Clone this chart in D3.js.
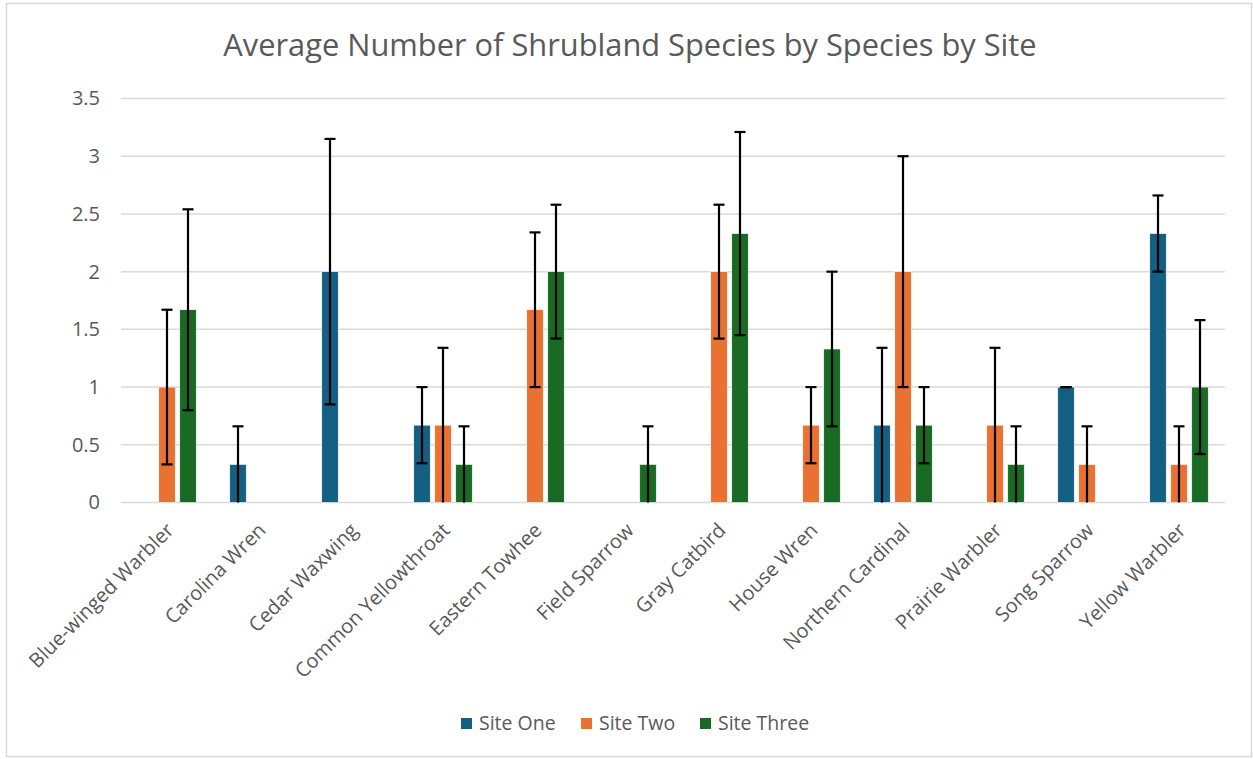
<!DOCTYPE html>
<html>
<head>
<meta charset="utf-8">
<script src="https://cdn.jsdelivr.net/npm/d3@7"></script>
<style>
  body { margin: 0; background: #fff; }
  svg text { font-family: "Open Sans", "Liberation Sans", sans-serif; fill: #595959; }
</style>
</head>
<body>
<div id="root"></div>
<script>
var categories = ["Blue-winged Warbler", "Carolina Wren", "Cedar Waxwing", "Common Yellowthroat",
    "Eastern Towhee", "Field Sparrow", "Gray Catbird", "House Wren", "Northern Cardinal",
    "Prairie Warbler", "Song Sparrow", "Yellow Warbler"];
var sites = ["Site One", "Site Two", "Site Three"];
var siteOne   = [0, 0.33, 2, 0.67, 0, 0, 0, 0, 0.67, 0, 1, 2.33];
var siteTwo   = [1, 0, 0, 0.67, 1.67, 0, 2, 0.67, 2, 0.67, 0.33, 0.33];
var siteThree = [1.67, 0, 0, 0.33, 2, 0.33, 2.33, 1.33, 0.67, 0.33, 0, 1];
// error amounts (+/-)
var errOne   = [0, 0.33, 1.15, 0.33, 0, 0, 0, 0, 0.67, 0, 0, 0.33];
var errTwo   = [0.67, 0, 0, 0.67, 0.67, 0, 0.58, 0.33, 1, 0.67, 0.33, 0.33];
var errThree = [0.87, 0, 0, 0.33, 0.58, 0.33, 0.88, 0.67, 0.33, 0.33, 0, 0.58];
var yTicks = [0, 0.5, 1, 1.5, 2, 2.5, 3, 3.5];
var colors = ["#156082", "#E97132", "#196B24"];

var values = [siteOne, siteTwo, siteThree];
var errors = [errOne, errTwo, errThree];

var W = 1253, H = 759;
var plot = { left: 121, right: 1225, top: 98.5, bottom: 502.5 };

var svg = d3.select("#root").append("svg")
    .attr("width", W).attr("height", H);

svg.append("rect")
    .attr("x", 6.5).attr("y", 3.5)
    .attr("width", W - 8).attr("height", H - 6)
    .attr("fill", "#fff").attr("stroke", "#d9d9d9").attr("stroke-width", 1.5);

var x0 = d3.scaleBand().domain(categories).range([plot.left, plot.right]);
var x1 = d3.scaleBand().domain(sites).range([0, 58.5]).paddingInner(0.214);
var y = d3.scaleLinear().domain([0, 3.5]).range([plot.bottom, plot.top]);

// gridlines
svg.append("g").selectAll("line")
    .data(yTicks)
    .enter().append("line")
    .attr("x1", plot.left).attr("x2", plot.right)
    .attr("y1", function (d) { return y(d); })
    .attr("y2", function (d) { return y(d); })
    .attr("stroke", "#d9d9d9").attr("stroke-width", 1.5);

// y axis labels
var yAxis = d3.axisLeft(y).tickValues(yTicks).tickSize(0).tickPadding(0)
    .tickFormat(function (d) { return String(d); });
var ya = svg.append("g")
    .attr("transform", "translate(" + (plot.left - 21) + ",0)")
    .call(yAxis);
ya.select(".domain").remove();
ya.selectAll("text").style("font-size", "20px").attr("fill", "#595959");

// x axis labels
var xAxis = d3.axisBottom(x0).tickSize(0).tickPadding(0);
var xa = svg.append("g")
    .attr("transform", "translate(0," + plot.bottom + ")")
    .call(xAxis);
xa.select(".domain").remove();
xa.selectAll("text")
    .style("font-size", "20px")
    .attr("fill", "#595959")
    .attr("text-anchor", "end")
    .attr("x", 0).attr("y", 0).attr("dy", 0)
    .attr("transform", "translate(8,29) rotate(-45)");

var groupOffset = (x0.bandwidth() - 58.5) / 2;

var rows = [];
categories.forEach(function (c, i) {
    sites.forEach(function (s, j) {
        rows.push({ cat: c, site: s, k: j, v: values[j][i], e: errors[j][i] });
    });
});

var bars = svg.append("g");
bars.selectAll("rect")
    .data(rows.filter(function (d) { return d.v > 0; }))
    .enter().append("rect")
    .attr("x", function (d) { return x0(d.cat) + groupOffset + x1(d.site); })
    .attr("y", function (d) { return y(d.v); })
    .attr("width", x1.bandwidth())
    .attr("height", function (d) { return y(0) - y(d.v); })
    .attr("fill", function (d) { return colors[d.k]; })
    .attr("stroke", "#fff").attr("stroke-width", 0.6);

// error bars
var eb = svg.append("g").attr("stroke", "#000").attr("stroke-width", 2.2);
var ebData = rows.filter(function (d) { return d.v > 0; });
function cx(d) { return x0(d.cat) + groupOffset + x1(d.site) + x1.bandwidth() / 2; }
eb.selectAll(".stem").data(ebData).enter().append("line")
    .attr("x1", cx).attr("x2", cx)
    .attr("y1", function (d) { return y(d.v - d.e); })
    .attr("y2", function (d) { return y(d.v + d.e); });
eb.selectAll(".capTop").data(ebData).enter().append("line")
    .attr("x1", function (d) { return cx(d) - 5.5; })
    .attr("x2", function (d) { return cx(d) + 5.5; })
    .attr("y1", function (d) { return y(d.v + d.e); })
    .attr("y2", function (d) { return y(d.v + d.e); });
eb.selectAll(".capBot").data(ebData.filter(function (d) { return d.v - d.e > 0.01; })).enter().append("line")
    .attr("x1", function (d) { return cx(d) - 5.5; })
    .attr("x2", function (d) { return cx(d) + 5.5; })
    .attr("y1", function (d) { return y(d.v - d.e); })
    .attr("y2", function (d) { return y(d.v - d.e); });

// title
svg.append("text")
    .attr("x", 630).attr("y", 56)
    .attr("text-anchor", "middle")
    .style("font-size", "30.8px")
    .text("Average Number of Shrubland Species by Species by Site");

// legend
var legendX = [461, 581, 700];
var lg = svg.append("g").selectAll("g")
    .data(sites)
    .enter().append("g")
    .attr("transform", function (d, i) { return "translate(" + legendX[i] + ",718)"; });
lg.append("rect")
    .attr("width", 11).attr("height", 11)
    .attr("fill", function (d, i) { return colors[i]; });
lg.append("text")
    .attr("x", 18).attr("y", 11.5)
    .style("font-size", "19.5px")
    .text(function (d) { return d; });
</script>
</body>
</html>
